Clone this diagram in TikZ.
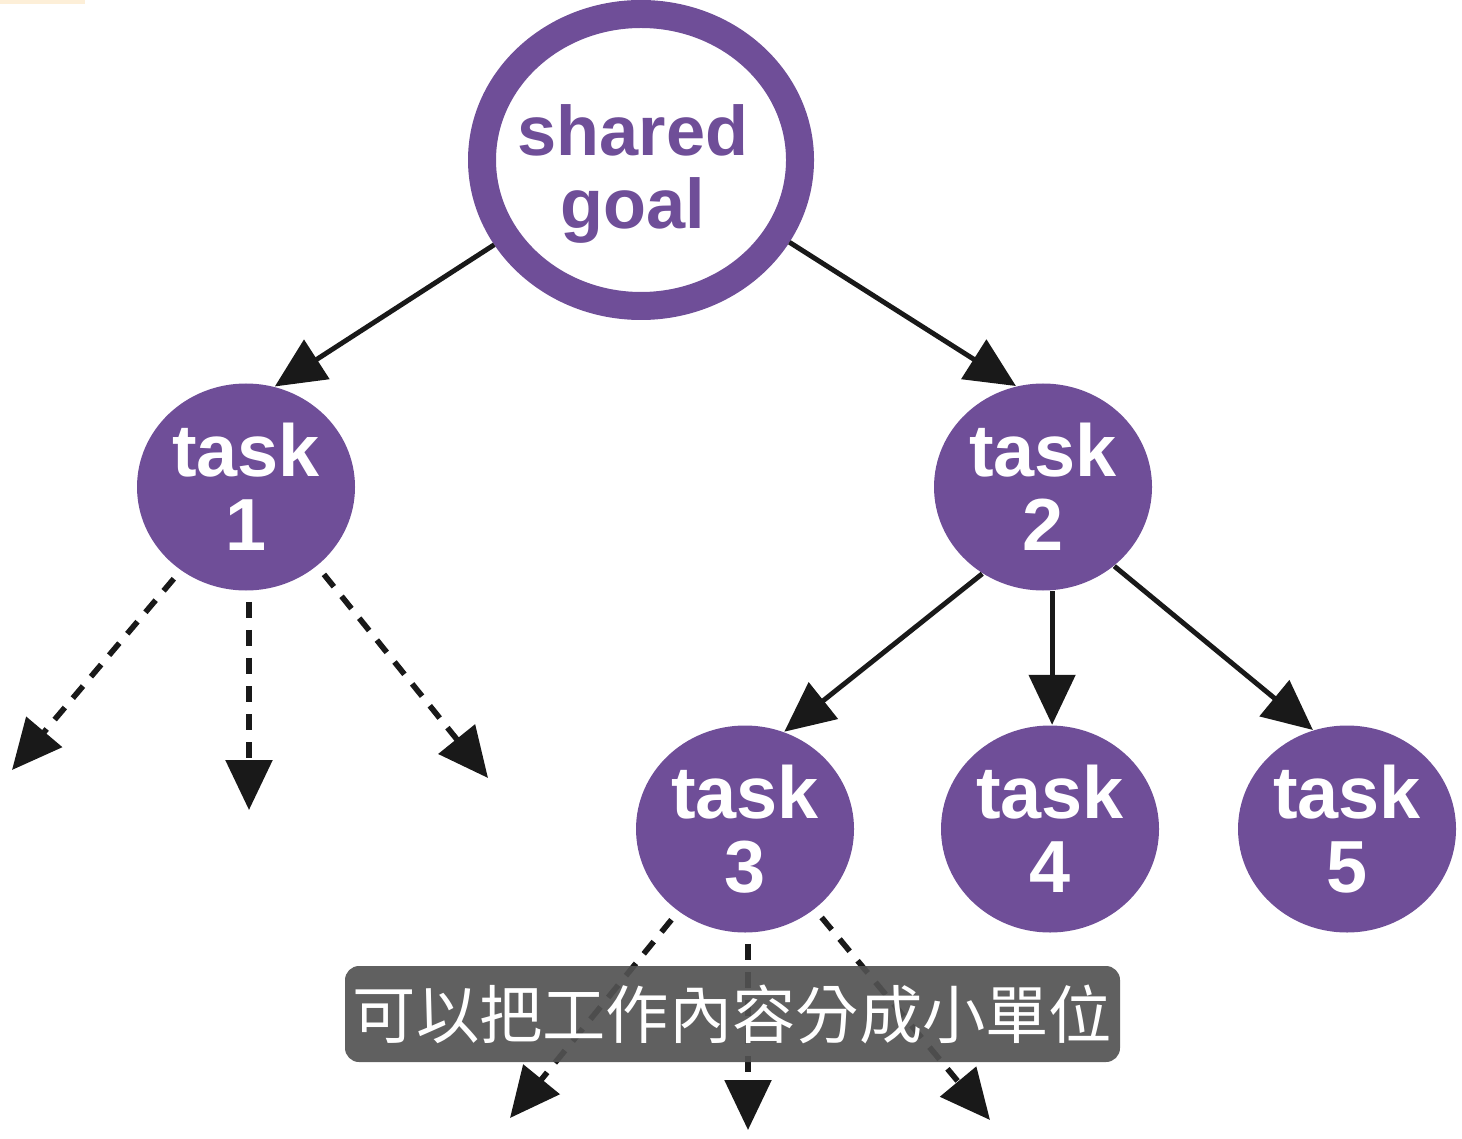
\documentclass[tikz,border=0pt]{standalone}
\usepackage{fontspec}
\setmainfont{Liberation Sans}
\newfontfamily\cjk{Noto Sans CJK TC}
\usetikzlibrary{arrows.meta,shapes.geometric}
\definecolor{taskpurple}{RGB}{111,78,152}
\definecolor{stickynote}{RGB}{253,239,216}

\begin{document}
\begin{tikzpicture}[
    taskblob/.style={ellipse, fill=taskpurple, text=white, inner sep=0pt,
        minimum width=2.18cm, minimum height=2.07cm, align=center,
        font=\bfseries\fontsize{21}{21}\selectfont},
    solidarrow/.style={line width=1.4pt, draw=black!90, -{Triangle[length=0.5cm,width=0.46cm]}},
    dashedarrow/.style={solidarrow, line width=1.6pt, dash pattern=on 4.5pt off 3.5pt, shorten <=3pt}
]
\useasboundingbox (0,0) rectangle (14.62,-11.38);
\fill[stickynote] (0,0) rectangle (0.85,-0.04);

\node[ellipse, draw=taskpurple, line width=0.28cm, inner sep=0pt,
    minimum width=3.18cm, minimum height=2.92cm] (goal) at (6.41,-1.60) {};
\node[text=taskpurple, align=center, font=\bfseries\fontsize{20}{20.8}\selectfont]
    (goaltext) at (6.33,-1.74) {shared\\goal};

\node[taskblob] (t1) at (2.46,-4.87) {task\\1};
\node[taskblob] (t2) at (10.43,-4.87) {task\\2};
\node[taskblob] (t3) at (7.45,-8.29) {task\\3};
\node[taskblob] (t4) at (10.50,-8.29) {task\\4};
\node[taskblob] (t5) at (13.47,-8.29) {task\\5};

\draw[solidarrow] (goal.210) -- (t1.74);
\draw[solidarrow] (goal.331) -- (t2.105);
\draw[solidarrow] (t2.235) -- (t3.68);
\draw[solidarrow] (t2.275) -- (t2.275 |- t4.north);
\draw[solidarrow] (t2.312) -- (t5.109);

\coordinate (t1left) at (0.12,-7.70);
\coordinate (t1mid) at (2.49,-8.10);
\coordinate (t1right) at (4.88,-7.78);
\draw[dashedarrow] (t1.232) -- (t1left);
\draw[dashedarrow] (t1.south) ++(0.03,0) coordinate (t1bot) -- (t1mid);
\draw[dashedarrow] (t1.312) -- (t1right);

\coordinate (t3left) at (5.10,-11.18);
\coordinate (t3mid) at (7.48,-11.30);
\coordinate (t3right) at (9.90,-11.20);
\draw[dashedarrow] (t3.231) -- (t3left);
\draw[dashedarrow] (t3.south) ++(0.03,0) coordinate (t3bot) -- (t3mid);
\draw[dashedarrow] (t3.311) -- (t3right);

\node[fill=black!68, fill opacity=0.92, text opacity=1, text=white,
    rounded corners=4pt, minimum width=7.75cm, minimum height=0.96cm, inner sep=0pt,
    font=\cjk\fontsize{18}{18}\selectfont]
    (subtitle) at (7.325,-10.14) {可以把工作內容分成小單位};
\end{tikzpicture}
\end{document}
